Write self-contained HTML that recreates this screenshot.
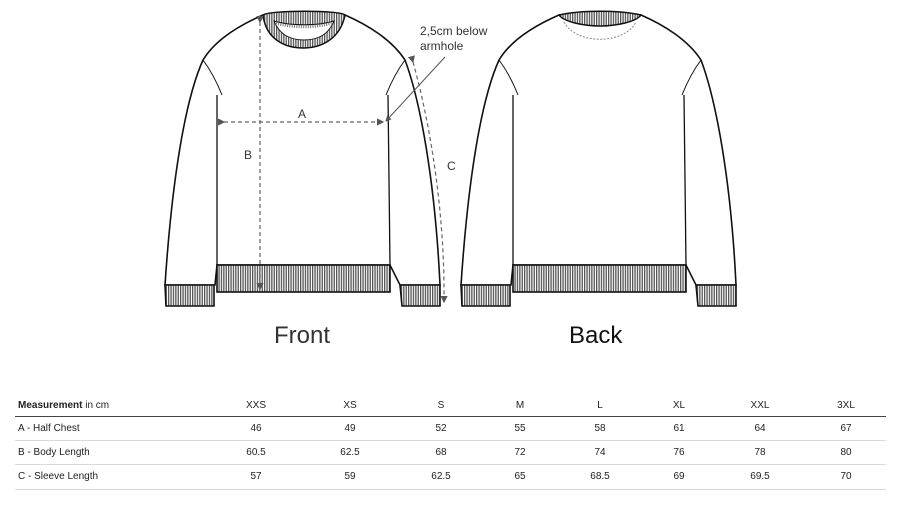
<!DOCTYPE html>
<html><head><meta charset="utf-8"><style>
body{margin:0;background:#fff;width:917px;height:517px;overflow:hidden;font-family:"Liberation Sans",sans-serif;position:relative}
.t{position:absolute;font-size:10px;color:#222;transform:translateX(-50%);white-space:nowrap}
.l{position:absolute;font-size:10px;color:#222;left:18px;white-space:nowrap}
.hr{position:absolute;left:15px;width:871px;height:1px;background:#d8d8d8}
</style></head><body>
<svg width="917" height="380" style="position:absolute;left:0;top:0" xmlns="http://www.w3.org/2000/svg">
<defs>
<pattern id="h" width="2.4" height="10" patternUnits="userSpaceOnUse"><rect width="2.4" height="10" fill="#fff"/><rect width="1.3" height="10" fill="#555"/></pattern>
<marker id="ar" markerWidth="6" markerHeight="6" refX="5" refY="3" orient="auto"><path d="M0,0 L6,3 L0,6 z" fill="#555"/></marker>
</defs>
<g id="sw" stroke="#111" stroke-width="1.6" fill="#fff">
<path d="M263,15 C240,25 215,40 203,60 C185,100 172,180 165,285 L215,285 L217,265 L390,265 L400,285 L440,285 C435,180 420,100 405,60 C392,40 368,25 345,15 Z"/>
<path d="M217,95 L217,265 M388,95 L390,265" fill="none" stroke-width="1.3"/>
<path d="M203,60 C212,72 218,85 222,95 M405,60 C396,72 390,85 386,95" fill="none" stroke-width="1"/>
<rect x="217" y="265" width="173" height="27" fill="url(#h)"/>
<path d="M165,285 L214,285 L214,306 L166,306 Z" fill="url(#h)"/>
<path d="M400,285 L440,285 L440,306 L402,306 Z" fill="url(#h)"/>
</g>
<path d="M263,15 C270,10 340,10 345,15 C340,40 320,48 303,48 C286,48 266,40 263,15 Z" fill="url(#h)" stroke="#111" stroke-width="1.5"/>
<path d="M274,21 C290,26 318,26 334,21 C328,36 316,40 304,40 C292,40 280,36 274,21 Z" fill="#fff" stroke="#111" stroke-width="1"/>
<path d="M276,23 C290,28 318,28 332,23" fill="none" stroke="#777" stroke-width="3" stroke-dasharray="1 1.3"/>
<g transform="translate(296,0)">
<use href="#sw"/>
<path d="M263,15 C285,10 323,10 345,15 C340,22 320,26 304,26 C288,26 268,22 263,15 Z" fill="url(#h)" stroke="#111" stroke-width="1.5"/>
<path d="M268,22 C280,45 328,45 340,22" fill="none" stroke="#888" stroke-width="1" stroke-dasharray="2 1.5"/>
</g>
<g stroke="#666" stroke-width="1.2" stroke-dasharray="4 3" fill="none">
<line x1="260" y1="22" x2="260" y2="289" marker-start="url(#ar)" marker-end="url(#ar)"/>
<line x1="224" y1="122" x2="383" y2="122" marker-start="url(#ar)" marker-end="url(#ar)"/>
<path d="M413,62 C432,130 445,220 444,302" marker-start="url(#ar)" marker-end="url(#ar)"/>
</g>
<line x1="445" y1="57" x2="386" y2="121" stroke="#555" stroke-width="1" marker-end="url(#ar)"/>
<g font-family="Liberation Sans, sans-serif" fill="#333" font-size="12">
<text x="298" y="118">A</text><text x="244" y="159">B</text><text x="447" y="170">C</text>
<text x="420" y="35">2,5cm below</text><text x="420" y="50">armhole</text>
<text x="274" y="343" font-size="24" fill="#333">Front</text>
<text x="569" y="343" font-size="24" fill="#111">Back</text>
</g>
</svg>
<div class="l" style="top:400px"><b>Measurement</b> in cm</div>
<div class="t" style="left:256px;top:400px">XXS</div><div class="t" style="left:350px;top:400px">XS</div><div class="t" style="left:441px;top:400px">S</div><div class="t" style="left:520px;top:400px">M</div><div class="t" style="left:600px;top:400px">L</div><div class="t" style="left:679px;top:400px">XL</div><div class="t" style="left:760px;top:400px">XXL</div><div class="t" style="left:846px;top:400px">3XL</div>
<div class="hr" style="top:416px;background:#444"></div>
<div class="l" style="top:423px">A - Half Chest</div>
<div class="t" style="left:256px;top:423px">46</div><div class="t" style="left:350px;top:423px">49</div><div class="t" style="left:441px;top:423px">52</div><div class="t" style="left:520px;top:423px">55</div><div class="t" style="left:600px;top:423px">58</div><div class="t" style="left:679px;top:423px">61</div><div class="t" style="left:760px;top:423px">64</div><div class="t" style="left:846px;top:423px">67</div>
<div class="hr" style="top:440px"></div>
<div class="l" style="top:447px">B - Body Length</div>
<div class="t" style="left:256px;top:447px">60.5</div><div class="t" style="left:350px;top:447px">62.5</div><div class="t" style="left:441px;top:447px">68</div><div class="t" style="left:520px;top:447px">72</div><div class="t" style="left:600px;top:447px">74</div><div class="t" style="left:679px;top:447px">76</div><div class="t" style="left:760px;top:447px">78</div><div class="t" style="left:846px;top:447px">80</div>
<div class="hr" style="top:464px"></div>
<div class="l" style="top:471px">C - Sleeve Length</div>
<div class="t" style="left:256px;top:471px">57</div><div class="t" style="left:350px;top:471px">59</div><div class="t" style="left:441px;top:471px">62.5</div><div class="t" style="left:520px;top:471px">65</div><div class="t" style="left:600px;top:471px">68.5</div><div class="t" style="left:679px;top:471px">69</div><div class="t" style="left:760px;top:471px">69.5</div><div class="t" style="left:846px;top:471px">70</div>
<div class="hr" style="top:489px"></div>
</body></html>
